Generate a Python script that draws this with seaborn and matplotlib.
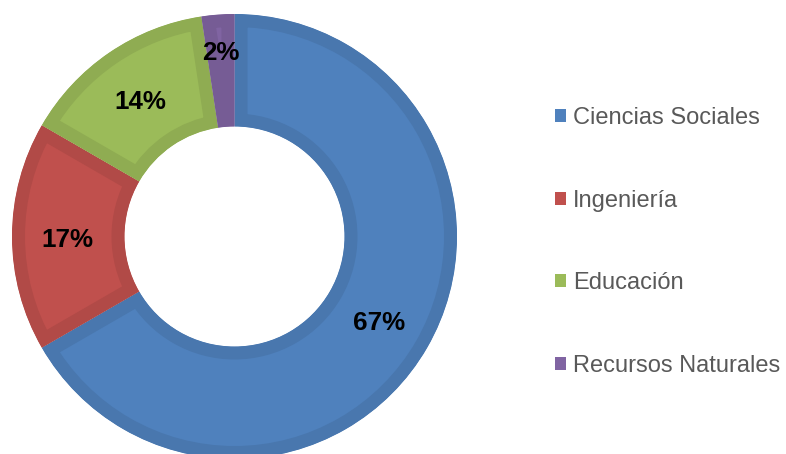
import matplotlib
matplotlib.use("Agg")
import matplotlib.pyplot as plt
from matplotlib.patches import Patch
import seaborn as sns
import numpy as np

# ---- data ----
categories = ["Ciencias Sociales", "Ingeniería", "Educación", "Recursos Naturales"]
counts = [28, 7, 6, 1]
fill_colors = ["#4F81BD", "#C0504D", "#9BBB59", "#8064A2"]
edge_colors = ["#4977AE", "#B14A47", "#8FAC52", "#765C95"]

sns.set_theme(style="white")
plt.rcParams["font.family"] = ["Liberation Sans", "DejaVu Sans"]

W, H = 786, 454
fig = plt.figure(figsize=(W / 100, H / 100), dpi=100)

cx, cy, R = 234.5, 236.5, 222.5   # pixel centre / radius of donut
L = 1.05
half = R * L
ax = fig.add_axes([(cx - half) / W, (H - cy - half) / H, 2 * half / W, 2 * half / H])

ring_width = 1 - 110 / 222.5
lw_pt = 26 * 72 / 100

wedges, texts, autotexts = ax.pie(
    counts,
    colors=fill_colors,
    startangle=90,
    counterclock=False,
    autopct=lambda p: f"{p:.0f}%",
    pctdistance=0.75,
    wedgeprops=dict(width=ring_width, linewidth=lw_pt),
    textprops=dict(fontsize=18.7, fontweight="bold", color="black"),
)
ax.set_xlim(-L, L)
ax.set_ylim(-L, L)
ax.set_aspect("equal")
ax.axis("off")

for w, ec in zip(wedges, edge_colors):
    w.set_edgecolor(ec)
    w.set_joinstyle("miter")
    w.set_clip_on(True)
    w.set_clip_path(w.get_path(), ax.transData)

# label placement tweaks (small slice label further out, all slightly lower)
dy = 3.5 / R
for i, t in enumerate(autotexts):
    x, y = t.get_position()
    if i == 3:
        x, y = x * 1.1, y * 1.1 + dy
    t.set_position((x, y - dy))

handles = [Patch(facecolor=c, edgecolor="none") for c in fill_colors]
fig.legend(
    handles, categories,
    loc="center left",
    bbox_to_anchor=(555 / W, 1 - 242 / H),
    frameon=False,
    fontsize=17,
    labelcolor="#595959",
    handlelength=0.47,
    handleheight=0.47,
    handletextpad=0.3,
    labelspacing=2.56,
    borderpad=0,
    borderaxespad=0,
)

fig.savefig("out.png", dpi=100)
